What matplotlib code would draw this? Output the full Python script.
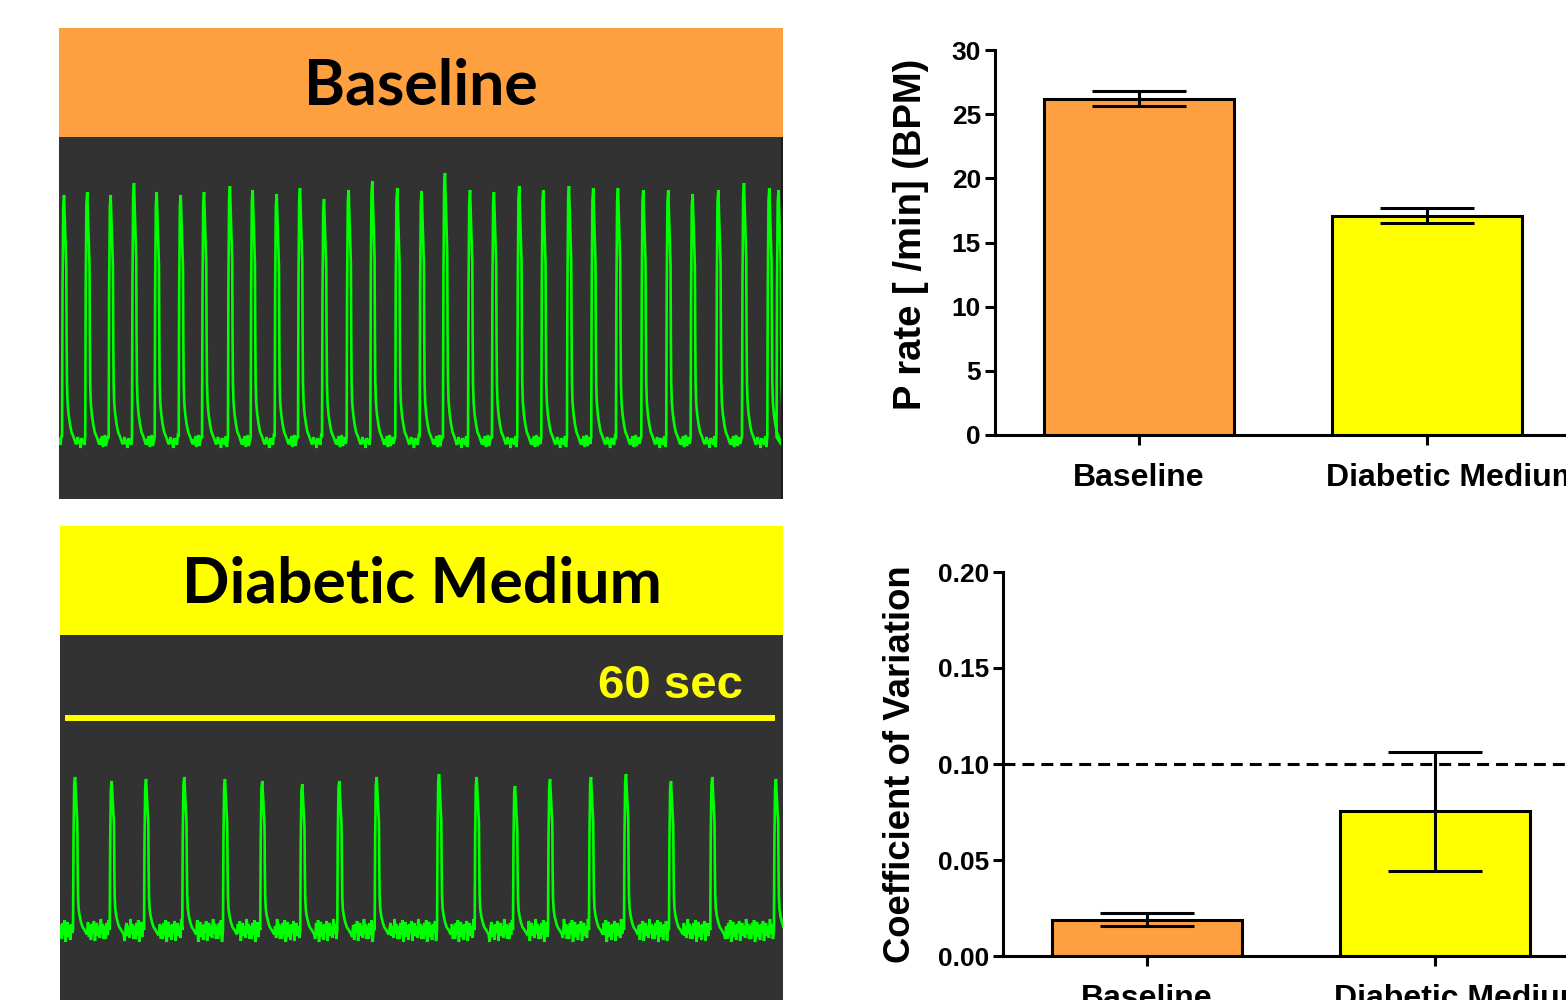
import numpy as np
import matplotlib
matplotlib.use('Agg')
import matplotlib.pyplot as plt
import matplotlib.ticker as mtick
import matplotlib.transforms as mtransforms

# Figure size in pixels (dpi 100)
W, H = 1566, 1000

# Group summary data (mean +/- SEM)
conditions = ['Baseline', 'Diabetic Medium']
bar_colors = ['#FFA040', '#FFFF00']
p_rate = [26.2, 17.1]
p_rate_sem = [0.6, 0.55]
cv = [0.019, 0.0755]
cv_sem = [0.0034, 0.031]
cv_threshold = 0.10

# Example traces: beat times (s) and peak amplitudes (a.u.)
baseline_peak_t = [-0.08, 1.88, 3.86, 5.83, 7.75, 9.78, 11.75, 13.94, 15.86, 17.89,
                   19.86, 21.89, 23.97, 25.97, 28.08, 30.14, 32.11, 34.23, 36.25, 38.39,
                   40.42, 42.59, 44.64, 46.73, 48.87, 50.98, 53.04, 55.21, 57.38, 59.52, 60.30]
baseline_peak_amp = [242, 245, 242, 254, 245, 242, 245, 251, 247, 243,
                     249, 238, 247, 256, 249, 246, 264, 247, 245, 251,
                     247, 251, 249, 249, 247, 247, 243, 247, 254, 249, 247]
diabetic_peak_t = [0.85, 3.95, 6.85, 10.08, 13.52, 16.67, 20.05, 23.18, 26.34,
                   31.61, 34.79, 38.03, 40.99, 44.45, 47.41, 51.21, 54.70, 60.08]
diabetic_peak_amp = [153, 149, 151, 153, 151, 149, 146, 149, 153,
                     156, 153, 144, 151, 153, 156, 149, 153, 151]

# One beat as seen on screen: time offset from peak (s) and fraction of peak
beat_dt = [-0.17, -0.13, -0.07, 0.0, 0.05, 0.19, 0.22, 0.25, 0.30, 0.39, 0.51, 0.63, 0.80, 1.01]
beat_shape = [0.0, 0.6, 0.95, 1.0, 0.92, 0.7, 0.4, 0.22, 0.14, 0.09, 0.05, 0.02, 0.0, -0.03]

# baseline wobble between beats (a.u.)
noise_baseline = [-2, -8, 1, -10, -4, 2, -9, -5, 0, -7, -3, -11, -1, -6]
noise_diabetic = [4, -9, 7, -5, 10, -12, 3, 8, -7, 5, -10, 6, -3, 9, -11, 2,
                  7, -6, 4, -8, 11, -4, 6, -9]

scale_bar_sec = 60
SEC_PER_PX = 60 / 710


def px_axes(fig, x0, y0, x1, y1):
    """Add axes using pixel box (left, top, right, bottom)."""
    return fig.add_axes([x0 / W, 1 - y1 / H, (x1 - x0) / W, (y1 - y0) / H])


def build_trace(peak_t, peak_amp, noise, t_start, t_end):
    dt = np.array(beat_dt)
    shape = np.array(beat_shape)
    xs, ys = [], []

    def add_noise(a, b, k):
        n = int((b - a) / SEC_PER_PX)
        if n < 1:
            return
        xs.extend(np.linspace(a, b, n + 2)[1:-1])
        ys.extend(np.take(noise, np.arange(n) + 7 * k, mode='wrap'))

    add_noise(t_start, peak_t[0] + dt[0], 0)
    for i, (t, a) in enumerate(zip(peak_t, peak_amp)):
        xs.extend(t + dt)
        ys.extend(a * shape)
        nxt = peak_t[i + 1] + dt[0] if i + 1 < len(peak_t) else t_end
        add_noise(t + dt[-1], nxt, i + 1)
    return np.array(xs), np.array(ys)


def header(fig, box, color, title):
    ax = px_axes(fig, *box)
    ax.set_facecolor(color)
    ax.set_xticks([])
    ax.set_yticks([])
    for s in ax.spines.values():
        s.set_visible(False)
    ax.text(0.5, 0.465, title, transform=ax.transAxes, ha='center', va='center',
            fontsize=45, fontweight='bold', family='Lato')


def trace_panel(fig, box, peak_t, peak_amp, noise, ylim):
    ax = px_axes(fig, *box)
    ax.set_facecolor('#323232')
    t0 = (box[0] - 65) * SEC_PER_PX
    t1 = (box[2] - 65) * SEC_PER_PX
    x, y = build_trace(peak_t, peak_amp, noise, t0, t1)
    ax.plot(x, y, color='#00FF00', lw=1.9, solid_joinstyle='miter')
    ax.set_xlim(t0, t1)
    ax.set_ylim(*ylim)
    ax.set_xticks([])
    ax.set_yticks([])
    for s in ax.spines.values():
        s.set_visible(False)
    return ax


def bar_panel(fig, ax, values, sems, ymax, step, fmt, ylabel, label_size, label_xy):
    x = np.arange(len(conditions))
    ax.bar(x, values, width=0.663, color=bar_colors, edgecolor='black', linewidth=2.2,
           yerr=sems, error_kw=dict(ecolor='black', elinewidth=2.2, capsize=34, capthick=2.2))
    ax.set_xlim(-0.5, 1.5)
    ax.set_ylim(0, ymax)
    ax.set_yticks(np.arange(0, ymax + step / 2, step))
    ax.yaxis.set_major_formatter(mtick.FormatStrFormatter(fmt))
    ax.set_xticks(x)
    for side in ['top', 'right']:
        ax.spines[side].set_visible(False)
    for side in ['left', 'bottom']:
        ax.spines[side].set_linewidth(2.2)
    ax.tick_params(axis='y', direction='out', length=7, width=2.2, labelsize=19, pad=3)
    ax.tick_params(axis='x', direction='out', length=7, width=2.2, labelbottom=False)
    ax.set_ylabel(ylabel, fontsize=label_size, fontweight='bold')
    ax.yaxis.set_label_coords(*label_xy)
    # category names; the right one sits a little off-centre like the original
    shifts = [0, 26]
    for i, name in enumerate(conditions):
        tr = mtransforms.offset_copy(ax.get_xaxis_transform(), fig=fig,
                                     x=shifts[i], y=-43, units='dots')
        ax.text(i, 0, name, transform=tr, ha='center', va='center',
                fontsize=23, fontweight='bold', clip_on=False)


plt.rcParams['font.family'] = ['Liberation Sans', 'DejaVu Sans']
plt.rcParams['font.weight'] = 'bold'

fig = plt.figure(figsize=(W / 100, H / 100), dpi=100)

# left: example recordings
header(fig, (59, 28, 783, 137), '#FFA040', 'Baseline')
ax_t = trace_panel(fig, (59, 137, 783, 499), baseline_peak_t, baseline_peak_amp,
                   noise_baseline, (-62, 300))
ax_t.axvline((781.5 - 65) * SEC_PER_PX, color='#1c1c1c', lw=1.5)

header(fig, (60, 526, 783, 635), '#FFFF00', 'Diabetic Medium')
ax_b = trace_panel(fig, (60, 635, 783, 1000), diabetic_peak_t, diabetic_peak_amp,
                   noise_diabetic, (-70, 295))
ax_b.plot([0, scale_bar_sec], [212, 212], color='#FFFF00', lw=4.3, solid_capstyle='butt')
ax_b.text(57.3, 244, f'{scale_bar_sec} sec', color='#FFFF00', fontsize=34,
          fontweight='bold', ha='right', va='center')

# right: summary bar charts
ax1 = px_axes(fig, 995, 50, 1571, 435)
bar_panel(fig, ax1, p_rate, p_rate_sem, 30, 5, '%d', 'P rate [ /min] (BPM)', 27.5, (-0.114, 0.52))

ax2 = px_axes(fig, 1003, 572, 1579, 956)
ax2.axhline(cv_threshold, color='black', lw=2.2, linestyle=(0, (3.9, 2.3)), zorder=1.5)
bar_panel(fig, ax2, cv, cv_sem, 0.20, 0.05, '%.2f', 'Coefficient of Variation', 26.3, (-0.148, 0.5))

fig.savefig('out.png', dpi=100)
